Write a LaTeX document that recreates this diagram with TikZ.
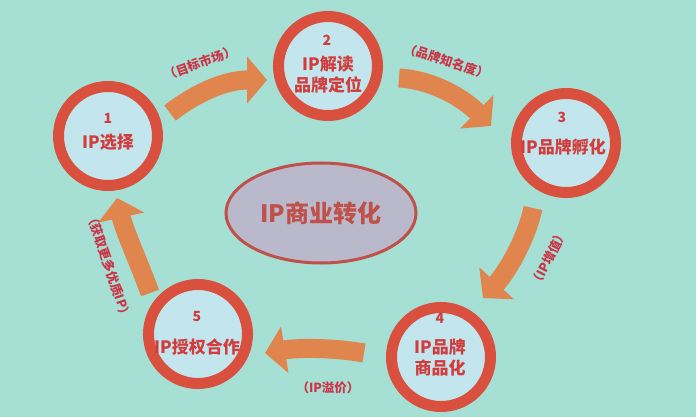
\documentclass[tikz,border=0pt]{standalone}
\usepackage{fontspec}
\setmainfont{Noto Sans CJK SC}[BoldFont={* Black}]
\usetikzlibrary{arrows.meta,shapes.geometric}
\definecolor{bg}{HTML}{A6DFD3}
\definecolor{ringred}{HTML}{D9503E}
\definecolor{innerblue}{HTML}{C3E6EE}
\definecolor{txtred}{HTML}{D23C3C}
\definecolor{lblred}{HTML}{CC3347}
\definecolor{arroworange}{HTML}{E0854E}
\definecolor{ellfill}{HTML}{BAB9CB}
\definecolor{ellline}{HTML}{C0504A}
\tikzset{
  ringnode/.style={circle, draw=ringred, fill=innerblue, line width=11pt, minimum size=99pt, inner sep=0pt},
  numtext/.style={text=txtred, font=\bfseries\fontsize{14}{14}\selectfont, inner sep=0pt},
  steptext/.style={text=txtred, font=\bfseries\fontsize{17}{21}\selectfont, inner sep=0pt, align=center},
  lbltext/.style={text=lblred, font=\bfseries\fontsize{12.5}{12.5}\selectfont, inner sep=0pt},
  bigarrow/.style={draw=arroworange, line width=19pt, -{Triangle[width=46pt,length=20pt]}},
}
\begin{document}
\begin{tikzpicture}[x=1pt,y=-1pt]
\useasboundingbox (0,0) rectangle (696,417);
\fill[bg] (0,0) rectangle (696,417);

% center ellipse
\node[ellipse, draw=ellline, fill=ellfill, line width=3pt, minimum width=190pt, minimum height=100pt,
      text=ellline, font=\bfseries\fontsize{24}{24}\selectfont] (center) at (321,213) {IP商业转化};

% circles
\node[ringnode] (n1) at (108,136) {};
\node[ringnode] (n2) at (328,66) {};
\node[ringnode] (n3) at (566,143) {};
\node[ringnode] (n4) at (441,357) {};
\node[ringnode] (n5) at (198,334) {};

\node[numtext] (t1n) at (108,118) {1};
\node[steptext] (t1) at (108,142) {IP选择};
\node[numtext] (t2n) at (327,40) {2};
\node[steptext] (t2) at (328,75) {IP解读\\品牌定位};
\node[numtext] (t3n) at (562,117) {3};
\node[steptext] (t3) at (563,147) {IP品牌孵化};
\node[numtext] (t4n) at (440,318) {4};
\node[steptext] (t4) at (440,358) {IP品牌\\商品化};
\node[numtext] (t5n) at (197,317) {5};
\node[steptext] (t5) at (197,347) {IP授权合作};

% arrow end points
\coordinate (a1s) at (170,113);
\coordinate (a1e) at (267,80);
\coordinate (a2s) at (399,78);
\coordinate (a2e) at (491,126);
\coordinate (a3s) at (533,208);
\coordinate (a3e) at (483,298);
\coordinate (a4s) at (364,353);
\coordinate (a4e) at (265,353);
\coordinate (a5s) at (150,293);
\coordinate (a5e) at (117,198);

\draw[bigarrow] (a1s) .. controls (200,90) and (228,80) .. (a1e);
\draw[bigarrow] (a2s) .. controls (432,80) and (462,97) .. (a2e);
\draw[bigarrow] (a3s) .. controls (526,240) and (507,272) .. (a3e);
\draw[bigarrow] (a4s) .. controls (330,347) and (296,348) .. (a4e);
\draw[bigarrow] (a5s) .. controls (140,265) and (124,230) .. (a5e);

% labels
\node[lbltext, rotate=20] (l1) at (200,63) {（目标市场）};
\node[lbltext, rotate=-18] (l2) at (447,61) {（品牌知名度）};
\node[lbltext, rotate=63] (l3) at (549,258) {（IP增值）};
\node[lbltext] (l4) at (328,388) {（IP溢价）};
\node[lbltext, rotate=-71] (l5) at (109,266) {（获取更多优质IP）};
\end{tikzpicture}
\end{document}
